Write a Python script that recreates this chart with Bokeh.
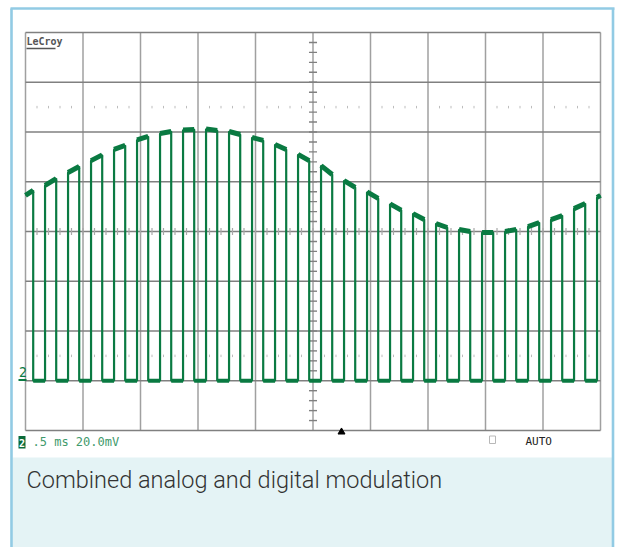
from bokeh.plotting import figure
from bokeh.models import Range1d, Label, ColumnDataSource
from bokeh.embed import file_html
from bokeh.resources import INLINE

# ---- scope screen: 10 x 0.5 ms divisions, 8 x 20 mV divisions ----
MS_PER_DIV = 0.5
MV_PER_DIV = 20.0
TIME_DIVS = [i * MS_PER_DIV for i in range(11)]          # 0 .. 5 ms
VOLT_DIVS = [-80, -60, -40, -20, 0, 20, 40, 60, 80]       # mV

# ---- channel 2: 5 kHz pulse train whose high level carries the analog signal ----
rise_ms = [-0.03, 0.17, 0.37, 0.57, 0.77, 0.97, 1.17, 1.37, 1.57, 1.77, 1.97,
           2.17, 2.37, 2.57, 2.77, 2.97, 3.17, 3.37, 3.57, 3.77, 3.97,
           4.17, 4.37, 4.57, 4.77, 4.97]
high_ms = 0.097
top_start_mv = [14.5, 18.5, 23.7, 28.5, 33.0, 36.8, 39.4, 40.8, 41.2, 40.2, 37.8,
                35.0, 31.0, 26.5, 20.5, 15.9, 11.1, 7.2, 3.2, 0.8, -0.4,
                0.0, 2.0, 4.8, 9.2, 13.7]
top_end_mv = [16.5, 21.3, 26.1, 30.8, 34.6, 38.2, 40.2, 41.0, 40.6, 39.0, 36.6,
              33.0, 28.5, 22.9, 17.7, 13.3, 8.6, 4.8, 1.6, 0.0, -0.4,
              0.8, 3.6, 6.4, 11.3, 14.5]
low_mv = -60.0

# ---- page geometry (pixels) ----
W, H = 621, 547
X0, Y0 = 25.0, 231.0                 # pixel position of t = 0 ms, v = 0 mV
PX_PER_MS = 57.5 / MS_PER_DIV
PX_PER_MV = 49.75 / MV_PER_DIV


def tx(px):
    return (px - X0) / PX_PER_MS


def vy(py):
    return (Y0 - py) / PX_PER_MV


T_END = TIME_DIVS[-1]
V_TOP, V_BOT = VOLT_DIVS[-1], VOLT_DIVS[0]

p = figure(width=W, height=H, x_range=Range1d(tx(0), tx(W)), y_range=Range1d(vy(H), vy(0)),
           x_axis_type=None, y_axis_type=None, toolbar_location=None,
           output_backend="svg", min_border=0, outline_line_color=None,
           background_fill_color="white", border_fill_color="white")

# caption panel and light-blue frame
p.quad(left=tx(12), right=tx(612), bottom=vy(H), top=vy(457),
       fill_color="#e4f3f5", line_color=None)
FRAME = "#92cbe4"
p.segment(x0=[tx(11), tx(612.5), tx(10)], y0=[vy(H), vy(H), vy(8)],
          x1=[tx(11), tx(612.5), tx(614)], y1=[vy(8), vy(8), vy(8)],
          line_color=FRAME, line_width=2.6)

# graticule
p.segment(x0=TIME_DIVS, y0=[V_BOT] * len(TIME_DIVS), x1=TIME_DIVS, y1=[V_TOP] * len(TIME_DIVS),
          line_color="#a0a0a0", line_width=1.5)
p.segment(x0=[0] * len(VOLT_DIVS), y0=VOLT_DIVS, x1=[T_END] * len(VOLT_DIVS), y1=VOLT_DIVS,
          line_color="#808080", line_width=1.5)

# minor ticks on the centre cross
minor_t = [round(0.1 * k, 2) for k in range(1, 50)]
p.segment(x0=minor_t, y0=[-1.4] * len(minor_t), x1=minor_t, y1=[1.4] * len(minor_t),
          line_color="#a8a8a8", line_width=1.2)
minor_v = [4 * k for k in range(-19, 20) if k != 0]
p.segment(x0=[2.5 - 0.035] * len(minor_v), y0=minor_v, x1=[2.5 + 0.035] * len(minor_v), y1=minor_v,
          line_color="#808080", line_width=1.4)

# dotted marker rows at +/-2.5 divisions
dot_t = [t for t in minor_t if abs(t / MS_PER_DIV - round(t / MS_PER_DIV)) > 1e-6]
for lvl in (50, -50):
    p.segment(x0=dot_t, y0=[lvl - 0.5] * len(dot_t), x1=dot_t, y1=[lvl + 0.5] * len(dot_t),
              line_color="#bdbdbd", line_width=1)

# waveform path
GREEN = "#0a7a42"
xs, ys = [], []
tops = dict(x0=[], y0=[], x1=[], y1=[])
lows = dict(x0=[], y0=[], x1=[], y1=[])
prev_fall = None
for r, a, b in zip(rise_ms, top_start_mv, top_end_mv):
    f = r + high_ms
    rs, fs = max(r, 0.0), min(f, T_END)
    if prev_fall is not None:
        lows["x0"].append(prev_fall); lows["x1"].append(rs)
        lows["y0"].append(low_mv); lows["y1"].append(low_mv)
    if r < 0:
        xs.append(rs); ys.append(a)
    else:
        xs += [rs, rs]; ys += [low_mv, a]
    if f > T_END:
        xs.append(fs); ys.append(b)
    else:
        xs += [fs, fs]; ys += [b, low_mv]
    tops["x0"].append(rs); tops["x1"].append(fs)
    tops["y0"].append(a); tops["y1"].append(b)
    prev_fall = fs

p.segment(x0="x0", y0="y0", x1="x1", y1="y1", source=ColumnDataSource(lows),
          line_color=GREEN, line_width=4)
p.segment(x0="x0", y0="y0", x1="x1", y1="y1", source=ColumnDataSource(tops),
          line_color=GREEN, line_width=5)
p.line(xs, ys, line_color=GREEN, line_width=2.2)

# trigger position marker
p.scatter([tx(341)], [vy(431.5)], marker="triangle", size=7, fill_color="black", line_color="black")


def label(px, py, text, **kw):
    p.add_layout(Label(x=tx(px), y=vy(py), text=text, text_baseline="middle", **kw))


# brand mark
label(26, 41, "LeCroy", text_font="DejaVu Sans Mono", text_font_style="bold",
      text_font_size="10px", text_color="#555555")
p.segment(x0=[tx(26)], y0=[vy(48)], x1=[tx(55)], y1=[vy(48)], line_color="#555555", line_width=1.4)

# channel 2 ground marker
label(18.5, 371.5, "2", text_font="DejaVu Sans Condensed", text_font_size="14px", text_color=GREEN)
p.segment(x0=[tx(18)], y0=[vy(379.5)], x1=[tx(26)], y1=[vy(379.5)], line_color=GREEN, line_width=1.8)

# status line
p.quad(left=tx(18), right=tx(25), bottom=vy(448), top=vy(435.5), fill_color="#0b6b3a", line_color=None)
label(21.5, 442, "2", text_font="DejaVu Sans Mono", text_font_style="bold",
      text_font_size="10px", text_color="white", text_align="center")
label(32, 441, ".5 ms 20.0mV", text_font="DejaVu Sans Mono", text_font_size="12px",
      text_color="#3f9a6c")
p.quad(left=tx(489), right=tx(495), bottom=vy(443), top=vy(435.5), fill_color="white",
       line_color="#b8b8b8", line_width=1)
label(525, 441, "AUTO", text_font="DejaVu Sans Mono", text_font_size="11px", text_color="#222222")

# caption
label(26, 479, "Combined analog and digital modulation", text_font="'Roboto Light', Roboto",
      text_font_size="23.5px", text_color="#333333")

open("out.html", "w").write(file_html(p, INLINE))
